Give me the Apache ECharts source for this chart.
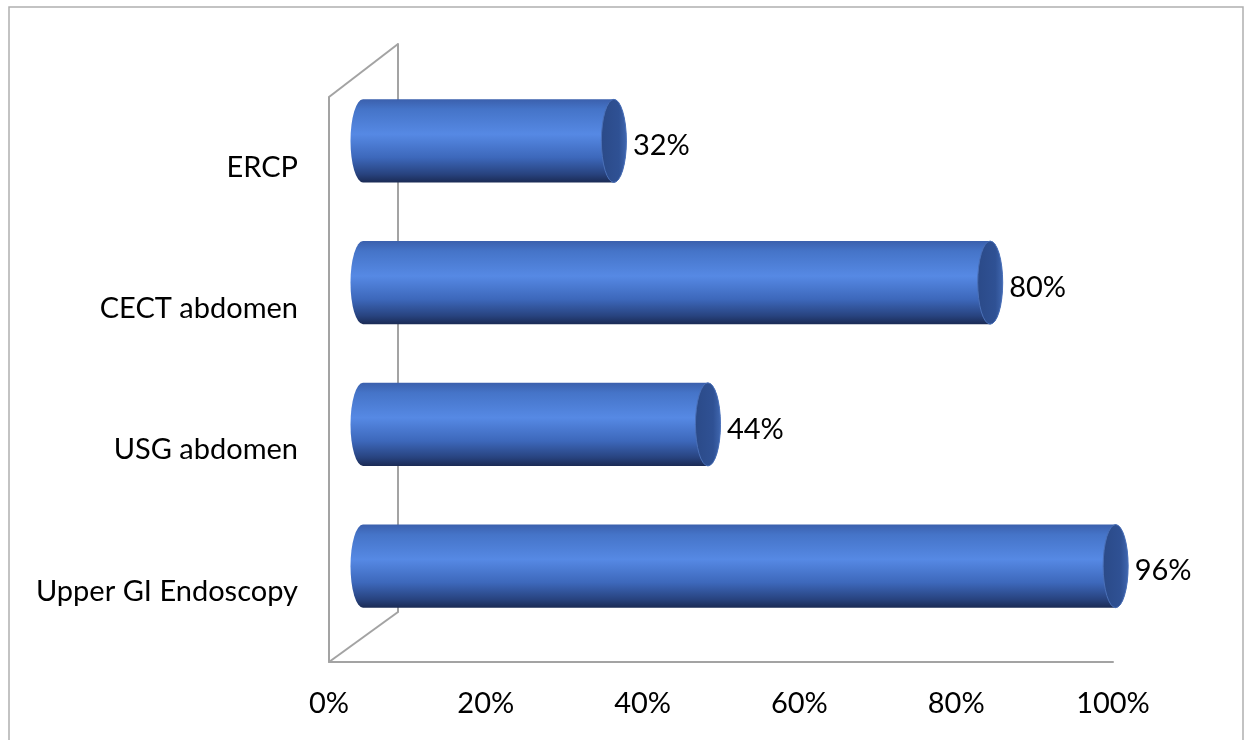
<!DOCTYPE html>
<html><head><meta charset="utf-8">
<script src="https://cdn.jsdelivr.net/npm/echarts@6/dist/echarts.min.js"></script>
<style>html,body{margin:0;padding:0;background:#fff;}#c{width:1251px;height:740px;}</style>
</head><body><div id="c"></div>
<script>
const categories = ['Upper GI Endoscopy', 'USG abdomen', 'CECT abdomen', 'ERCP'];
const values = [96, 44, 80, 32];
const xTicks = [0, 20, 40, 60, 80, 100];

const FONT = 'Lato';
const FS = 29;
const chart = echarts.init(document.getElementById('c'));
const grayLine = '#a3a3a3';

function renderBar(params, api) {
  const cat = api.value(0);
  const v = api.value(1);
  const p0 = api.coord([0, cat]);
  const p1 = api.coord([v, cat]);
  const band = api.size([0, 1])[1];
  const h = band * 0.586;
  const x0 = p0[0], x1 = p1[0], yc = p0[1];
  const top = yc - h / 2, bot = yc + h / 2;
  const rx = 12.5, ry = h / 2;
  const bodyGrad = new echarts.graphic.LinearGradient(0, 0, 0, 1, [
    {offset: 0, color: '#3b60ad'},
    {offset: 0.12, color: '#4574c8'},
    {offset: 0.42, color: '#5689e4'},
    {offset: 0.7, color: '#3d68bb'},
    {offset: 0.9, color: '#28437f'},
    {offset: 1, color: '#1b2b55'}
  ]);
  const capGrad = new echarts.graphic.LinearGradient(0, 0, 1, 0, [
    {offset: 0, color: '#2b4a88'},
    {offset: 0.7, color: '#2f5194'},
    {offset: 1, color: '#4067b0'}
  ]);
  const body = 'M' + x0 + ',' + top + ' L' + x1 + ',' + top +
    ' A' + rx + ',' + ry + ' 0 0 1 ' + x1 + ',' + bot +
    ' L' + x0 + ',' + bot +
    ' A' + rx + ',' + ry + ' 0 0 1 ' + x0 + ',' + top + ' Z';
  const cap = 'M' + (x1 - rx) + ',' + yc +
    ' A' + rx + ',' + ry + ' 0 1 1 ' + (x1 + rx) + ',' + yc +
    ' A' + rx + ',' + ry + ' 0 1 1 ' + (x1 - rx) + ',' + yc + ' Z';
  return {
    type: 'group',
    children: [
      {type: 'path', shape: {pathData: body}, style: {fill: bodyGrad}},
      {type: 'path', shape: {pathData: cap}, style: {fill: capGrad, stroke: '#4a70b8', lineWidth: 1}},
      {type: 'text', x: x1 + 19, y: yc + 5, style: {
        text: v + '%', fill: '#000', font: FS + 'px ' + FONT,
        verticalAlign: 'middle', align: 'left'}}
    ]
  };
}

const option = {
  animation: false,
  backgroundColor: '#fff',
  grid: [
    {left: 329, top: 97, width: 784, height: 565},   // front plane (axes)
    {left: 363, top: 70, width: 784, height: 567},   // bar plane
    {left: 398, top: 44, width: 784, height: 568}    // back plane
  ],
  xAxis: [
    {gridIndex: 0, type: 'value', min: 0, max: 100, interval: 20,
     axisLine: {show: true, lineStyle: {color: grayLine, width: 2}},
     axisTick: {show: false}, splitLine: {show: false},
     axisLabel: {formatter: v => v + '%', color: '#000', fontFamily: FONT, fontSize: FS, margin: 27}},
    {gridIndex: 1, type: 'value', min: 0, max: 100, show: false},
    {gridIndex: 2, type: 'value', min: 0, max: 100, show: false}
  ],
  yAxis: [
    {gridIndex: 0, type: 'category', data: categories,
     axisLine: {show: true, lineStyle: {color: grayLine, width: 2}},
     axisTick: {show: false},
     axisLabel: {color: '#000', fontFamily: FONT, fontSize: FS, margin: 31}},
    {gridIndex: 1, type: 'category', data: categories, show: false},
    {gridIndex: 2, type: 'category', data: categories,
     axisLine: {show: true, lineStyle: {color: grayLine, width: 2}},
     axisTick: {show: false}, axisLabel: {show: false}}
  ],
  graphic: [
    {type: 'rect', shape: {x: 9, y: 7, width: 1234, height: 760}, style: {fill: 'none', stroke: '#b0b0b0', lineWidth: 1.5}, z: -10},
    {type: 'line', shape: {x1: 329, y1: 97, x2: 398, y2: 44}, style: {stroke: grayLine, lineWidth: 2}},
    {type: 'line', shape: {x1: 329, y1: 662, x2: 398, y2: 612}, style: {stroke: grayLine, lineWidth: 2}}
  ],
  series: [{
    type: 'custom',
    xAxisIndex: 1, yAxisIndex: 1,
    renderItem: renderBar,
    encode: {x: 1, y: 0},
    data: categories.map((c, i) => [i, values[i]]),
    z: 5
  }]
};
chart.setOption(option);
</script></body></html>
